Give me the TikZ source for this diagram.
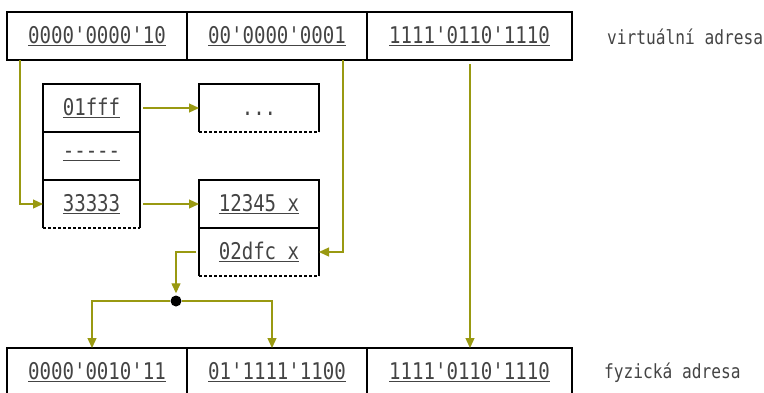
\documentclass[tikz,border=0pt]{standalone}
\usepackage{fontspec}
\setmonofont{DejaVu Sans Mono}[FakeStretch=0.83]
\usepackage{tikz}
\usetikzlibrary{arrows.meta,positioning}
\definecolor{arrowolive}{RGB}{153,153,17}
\definecolor{textgray}{RGB}{68,68,68}

\begin{document}
\begin{tikzpicture}[x=1pt,y=-1pt,
    every node/.style={font=\ttfamily\fontsize{23}{23}\selectfont,text=textgray},
    cell/.style={draw,line width=1.1pt,minimum height=48pt,inner sep=0pt,outer sep=0pt},
    open/.style={minimum height=48pt,inner sep=0pt,outer sep=0pt},
    arr/.style={draw=arrowolive,line width=1.3pt,-{Triangle[length=10pt,width=9pt]}},
    dot/.style={circle,fill=black,inner sep=0pt,minimum size=11pt},
    lbl/.style={anchor=west,inner sep=0pt,font=\ttfamily\fontsize{19.5}{19.5}\selectfont}]
    \useasboundingbox (0,0) rectangle (764,392);
    \node[cell,minimum width=180pt] (v1) at (97,36) {\underline{0000'0000'10}};
    \node[cell,minimum width=180pt,right=0pt of v1] (v2) {\underline{00'0000'0001}};
    \node[cell,minimum width=205pt,right=0pt of v2] (v3) {\underline{1111'0110'1110}};
    \node[lbl] (vlabel) at (607,37) {virtuální adresa};

    \node[cell,minimum width=97pt] (t1) at (91.5,108) {\underline{01fff}};
    \node[cell,minimum width=97pt,below=0pt of t1] (t2) {\underline{-----}};
    \node[open,minimum width=97pt,below=0pt of t2] (t3) {\underline{33333}};
    \node[open,minimum width=120pt] (d1) at (259,108) {\vphantom{\underline{0}}...};
    \node[cell,minimum width=120pt] (b1) at (259,204) {\underline{12345 x}};
    \node[open,minimum width=120pt,below=0pt of b1] (b2) {\underline{02dfc x}};
    \foreach \n in {t3,d1,b2} {
        \draw[line width=1.1pt] (\n.south west) -- (\n.north west) -- (\n.north east) -- (\n.south east);
        \draw[line width=1.1pt,dash pattern=on 3pt off 2pt] (\n.south west) -- (\n.south east);
    }

    \node[cell,minimum width=180pt] (f1) at (97,372) {\underline{0000'0010'11}};
    \node[cell,minimum width=180pt,right=0pt of f1] (f2) {\underline{01'1111'1100}};
    \node[cell,minimum width=205pt,right=0pt of f2] (f3) {\underline{1111'0110'1110}};
    \node[lbl] (flabel) at (604,373) {fyzická adresa};

    \node[dot] (split) at (176,301) {};
    \draw[arr] ([xshift=13pt]v1.south west) |- (t3.west);
    \draw[arr] ([xshift=-24pt]v2.south east) |- (b2.east);
    \draw[arr,shorten <=3pt] (t1) -- (d1);
    \draw[arr,shorten <=3pt] (t3) -- (b1);
    \draw[arr,shorten <=3pt,shorten >=2pt] (b2.west) -| (split);
    \draw[arr] (split) -| ([xshift=-5pt]f1.north);
    \draw[arr] (split) -| ([xshift=-5pt]f2.north);
    \draw[arr,shorten <=4pt] ([xshift=0.5pt]v3.south) -- ([xshift=0.5pt]f3.north);
\end{tikzpicture}
\end{document}
